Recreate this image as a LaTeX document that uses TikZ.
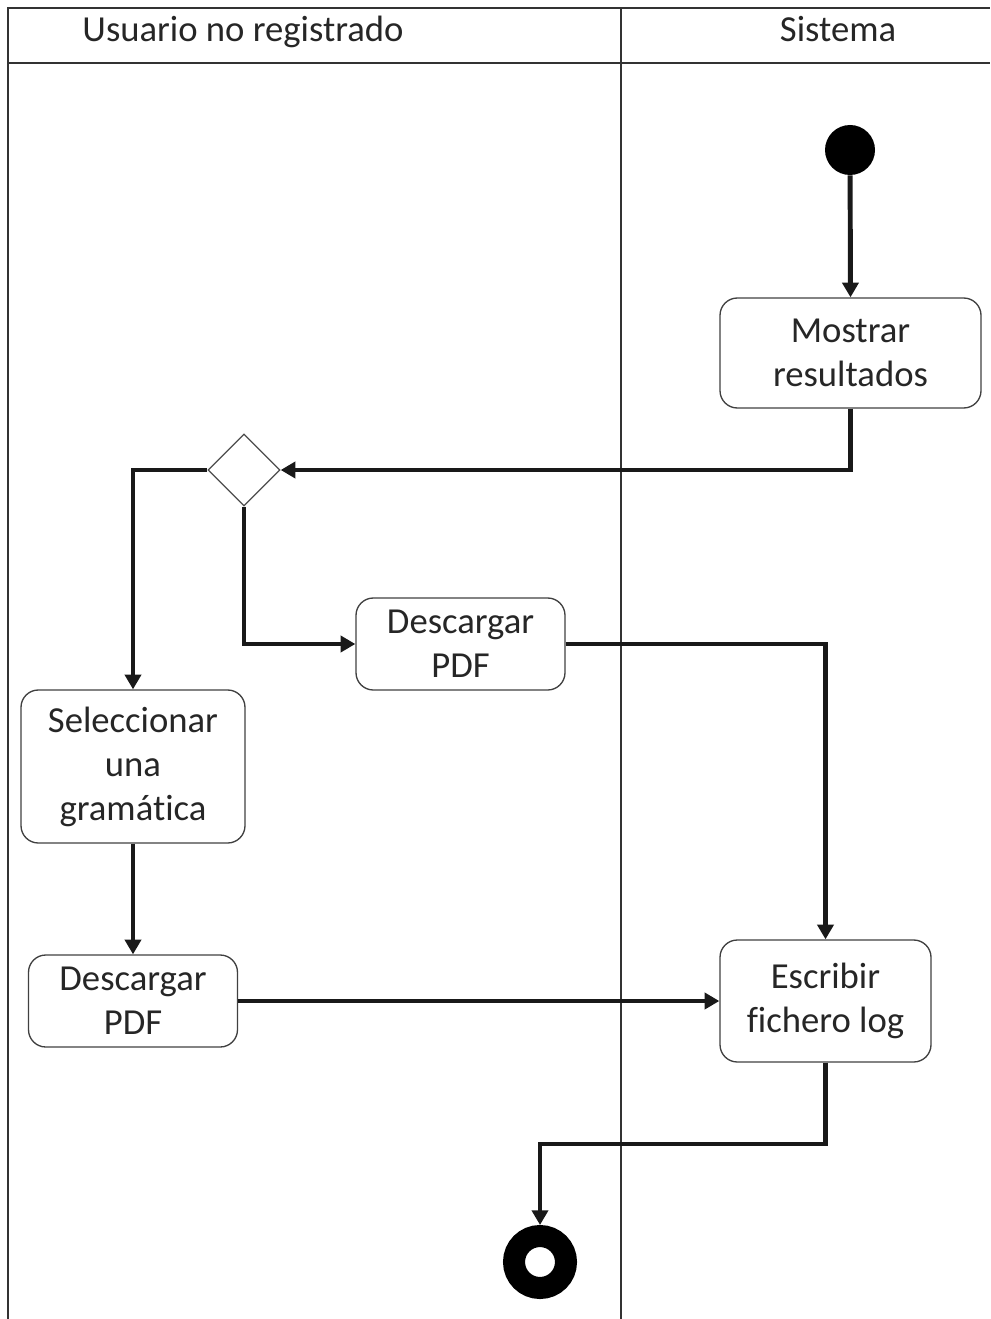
\documentclass[tikz,border=0pt]{standalone}
\usepackage{fontspec}
\setmainfont{Carlito}[Ligatures=NoCommon]
\usetikzlibrary{arrows.meta,shapes.geometric}
\tikzset{
	lane/.style={draw=black!80,line width=1.1pt},
	act/.style 2 args={draw=black!75,line width=1pt,rounded corners=13pt,align=center,inner sep=0pt,minimum width=#1,minimum height=#2,text=black!85,font=\fontsize{27.5}{33}\selectfont},
	head/.style={text=black!85,font=\fontsize{27.5}{33}\selectfont,text height=19pt,text depth=6pt},
	flow/.style={draw=black!90,line width=3.7pt,-{Triangle[length=11pt,width=12pt]}},
	decision/.style={diamond,draw=black!70,line width=1pt,minimum size=54pt,inner sep=0pt,aspect=1}
}
\begin{document}
\begin{tikzpicture}[x=0.75pt,y=-0.75pt]
						\useasboundingbox (0,0) rectangle (990,1319);
						\draw [lane] (8,1319) -- (8,8) -- (990,8);
						\draw [lane] (8,63) -- (990,63);
						\draw [lane] (621,8) -- (621,1319);
						\node [head] (usuario) at (243,33) {Usuario no registrado};
						\node [head] (sistema) at (838,33) {Sistema};
						
						\node [circle,fill=black,minimum size=37.5pt,inner sep=0pt] (inicio) at (850,150) {};
						\node [act={195.75pt}{82.5pt}] (mostrar) at (850.5,353) {Mostrar\\resultados};
						\node [decision] (decide) at (244,470) {};
						\node [act={156.75pt}{69pt}] (descargarB) at (460.5,644) {Descargar\\PDF};
						\node [act={168pt}{114.75pt}] (seleccionar) at (133,766.5) {Seleccionar\\una\\gramática};
						\node [act={156.75pt}{69pt}] (descargarA) at (133,1001) {Descargar\\PDF};
						\node [act={158.25pt}{91.5pt}] (escribir) at (825.5,1001) {Escribir\\fichero log};
						\node [circle,draw=black,fill=white,line width=16.5pt,minimum size=39pt,inner sep=0pt] (fin) at (540,1262) {};
						
						\draw [flow] (inicio) -- (mostrar.north);
						\draw [flow] (mostrar.south) |- (decide.east);
						\draw [flow] (decide.west) -| (seleccionar.north);
						\draw [flow] (decide.south) |- (descargarB.west);
						\draw [flow] (descargarB.east) -| (escribir.north);
						\draw [flow] (seleccionar.south) -- (descargarA.north);
						\draw [flow] (descargarA.east) -- (escribir.west);
						\coordinate (codo) at (825.5,1144);
						\draw [flow] (escribir.south) -- (codo) -| (fin.north);
					\end{tikzpicture}
\end{document}
